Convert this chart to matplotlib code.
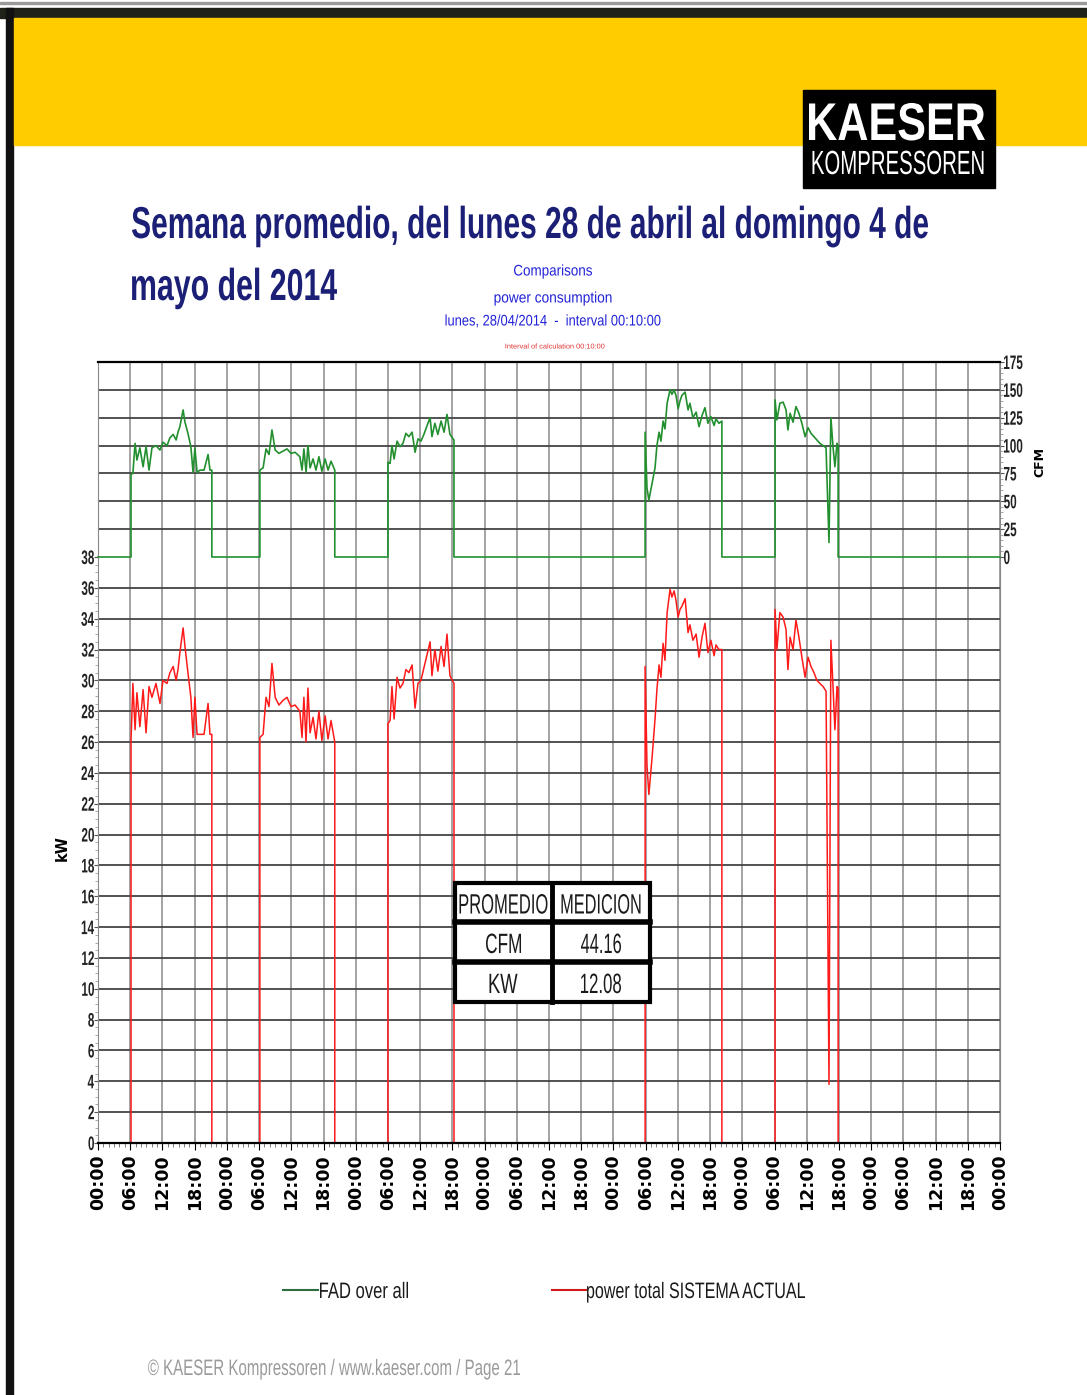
import matplotlib
matplotlib.use('Agg')
import matplotlib.pyplot as plt
from matplotlib.transforms import Affine2D
from matplotlib.patches import Rectangle, PathPatch
from matplotlib.lines import Line2D
from matplotlib.textpath import TextPath
from matplotlib.font_manager import FontProperties

W, H = 1087, 1395

# ---- data: hours since lunes 28/04 00:00, FAD in CFM, power in kW ----
mon_h = [6.15, 6.5, 6.9, 7.25, 7.8, 8.4, 8.95, 9.5, 10.05, 10.8, 11.55, 12.1, 12.85, 13.4, 14.0,
         14.55, 14.9, 15.25, 15.85, 16.2, 16.75, 17.3, 17.7, 18.05, 18.45, 19.0, 19.75, 20.5, 20.85, 21.2]
mon_cfm = [74, 75, 102, 87, 98, 81, 99, 78, 98, 100, 96, 103, 100, 107, 110,
           105, 112, 117, 132, 121, 111, 99, 76, 98, 76, 78, 78, 92, 78, 78]
mon_kw = [26.1, 29.8, 26.8, 29.2, 27.0, 29.4, 26.6, 29.6, 28.9, 29.8, 28.5, 30.0, 29.8, 30.5, 30.9,
          30.0, 30.7, 31.8, 33.4, 32.2, 30.5, 28.9, 26.3, 28.9, 26.5, 26.5, 26.5, 28.5, 26.5, 26.5]

tue_h = [30.15, 30.75, 31.3, 31.85, 32.4, 33.0, 33.7, 34.45, 35.2, 35.95, 36.7, 37.6, 38.0,
         38.35, 38.75, 39.1, 39.5, 40.05, 40.6, 41.15, 41.7, 42.3, 42.85, 43.4, 44.1]
tue_cfm = [78, 80, 97, 92, 114, 96, 93, 95, 97, 93, 94, 90, 78,
           97, 76, 100, 80, 88, 78, 90, 77, 88, 78, 86, 78]
tue_kw = [26.3, 26.5, 28.9, 28.3, 31.1, 28.9, 28.4, 28.7, 28.9, 28.3, 28.4, 28.0, 26.3,
          28.9, 26.0, 29.5, 26.6, 27.6, 26.2, 28.0, 26.1, 27.7, 26.2, 27.4, 26.0]

wed_h = [54.0, 54.4, 54.75, 55.15, 55.7, 56.25, 56.8, 57.35, 57.9, 58.5, 59.05, 59.6,
         60.15, 60.7, 61.3, 61.85, 62.2, 62.75, 63.3, 63.9, 64.45, 65.0, 65.55, 66.3]
wed_cfm = [85, 84, 100, 88, 104, 99, 102, 111, 108, 112, 94, 106,
           104, 110, 118, 125, 108, 120, 110, 122, 112, 128, 110, 105]
wed_kw = [27.2, 27.4, 29.6, 27.5, 30.2, 29.5, 29.8, 30.7, 30.5, 31.0, 28.2, 29.8,
          30.0, 30.8, 31.7, 32.5, 30.3, 32.0, 30.6, 32.2, 30.9, 33.0, 30.3, 29.8]

fri_h = [101.9, 102.25, 102.6, 103.2, 103.75, 104.1, 104.5, 104.85, 105.25, 105.6, 106.0,
         106.55, 106.9, 107.3, 107.65, 108.05, 108.4, 108.75, 109.35, 109.9, 110.25, 110.8,
         111.4, 111.95, 112.5, 113.05, 113.6, 114.15, 114.75, 115.1, 115.65, 116.2]
fri_cfm = [112, 62, 51, 66, 80, 100, 112, 104, 122, 115, 138,
           150, 146, 150, 145, 133, 140, 145, 148, 132, 138, 125,
           130, 117, 127, 134, 120, 126, 118, 124, 120, 122]
fri_kw = [30.9, 24.5, 22.6, 25.0, 27.5, 29.4, 31.0, 30.2, 32.4, 31.3, 34.4,
          35.9, 35.4, 35.8, 35.2, 34.1, 34.6, 34.8, 35.3, 33.1, 33.6, 32.6,
          33.0, 31.5, 32.8, 33.7, 31.8, 32.6, 31.6, 32.3, 32.0, 32.0]

sat_h = [126.1, 126.45, 127.0, 127.6, 128.15, 128.5, 128.9, 129.45, 130.0, 130.55, 131.1,
         131.7, 132.25, 132.8, 133.35, 133.9, 134.45, 135.05, 135.6, 136.15, 136.5, 136.9,
         137.25, 137.65, 137.85]
sat_cfm = [141, 123, 138, 139, 132, 114, 129, 121, 135, 129, 120,
           108, 116, 111, 108, 105, 102, 100, 98, 13, 125, 99,
           81, 102, 100]
sat_kw = [34.6, 32.0, 34.4, 34.1, 33.3, 30.7, 32.8, 32.0, 33.9, 32.8, 31.5,
          30.2, 31.5, 30.9, 30.5, 30.0, 29.8, 29.6, 29.3, 3.8, 32.6, 29.6,
          26.8, 29.6, 29.5]

week_hours = 168
tick_labels = ['00:00', '06:00', '12:00', '18:00']
kw_ticks = list(range(0, 39, 2))
cfm_ticks = list(range(0, 176, 25))

table_rows = [['PROMEDIO', 'MEDICION'], ['CFM', '44.16'], ['KW', '12.08']]

# build full week series (compressor off = 0)
runs = [(mon_h, mon_cfm, mon_kw), (tue_h, tue_cfm, tue_kw), (wed_h, wed_cfm, wed_kw),
        (fri_h, fri_cfm, fri_kw), (sat_h, sat_cfm, sat_kw)]
hours, cfm, kw = [0.0], [0], [0]
for h, c, k in runs:
    hours += [h[0]] + h + [h[-1]]
    cfm += [0] + c + [0]
    kw += [0] + k + [0]
hours.append(week_hours)
cfm.append(0)
kw.append(0)

fig = plt.figure(figsize=(W / 100, H / 100), dpi=100)
# pixel coords, origin top-left
pix = Affine2D().scale(1 / W, -1 / H).translate(0, 1) + fig.transFigure
disp = Affine2D().scale(1, -1).translate(0, H)   # pixel (top-left) -> display


def ntext(x, y, s, cap, sx=0.72, width=None, ha='left', color='black', bold=False, zorder=8):
    # condensed text drawn as a squeezed path (no narrow font installed)
    fp = FontProperties(family='Liberation Sans', weight='bold' if bold else 'normal')
    size = cap / 0.716
    tp = TextPath((0, 0), s, size=size, prop=fp)
    bb = tp.get_extents()
    if width is not None:
        sx = width / bb.width
    w = bb.width * sx
    x0 = x - {'left': 0, 'center': w / 2, 'right': w}[ha]
    tr = Affine2D().translate(-bb.x0, 0).scale(sx, -1).translate(x0, y + cap / 2) + disp
    fig.add_artist(PathPatch(tp, transform=tr, facecolor=color, edgecolor='none', zorder=zorder))


# page frame / header
fig.add_artist(Rectangle((0, 2), W, 2, color='#9a9a9a', transform=pix))
fig.add_artist(Rectangle((0, 8), W, 10, color='#1e2219', transform=pix))
fig.add_artist(Rectangle((6, 8), 7, H, color='#111111', transform=pix))
fig.add_artist(Rectangle((14, 18), W - 14, 127, color='#FFCC00', transform=pix))
fig.add_artist(Rectangle((803, 90), 192, 98, color='black', transform=pix))
ntext(897, 121, 'KAESER', 38, width=176, ha='center', color='white', bold=True)
ntext(898, 162, 'KOMPRESSOREN', 24, width=171, ha='center', color='white')

navy = '#1b1f75'
ntext(132, 222, 'Semana promedio, del lunes 28 de abril al domingo 4 de', 32, width=796,
      color=navy, bold=True)
ntext(132, 284, 'mayo del 2014', 32, width=205, color=navy, bold=True)

blue = '#2222d8'
ntext(553, 270, 'Comparisons', 11, width=78, ha='center', color=blue)
ntext(553, 297, 'power consumption', 11, width=117, ha='center', color=blue)
ntext(553, 320, 'lunes, 28/04/2014  -  interval 00:10:00', 11, width=215, ha='center', color=blue)
ntext(555, 346, 'Interval of calculation 00:10:00', 5, width=99, ha='center', color='#e03030')

# ---- axes ----
ax_k = fig.add_axes([98 / W, 1 - 1143 / H, 902 / W, 586 / H])
ax_c = fig.add_axes([98 / W, 1 - 557 / H, 902 / W, 195 / H])

ax_k.plot(hours, kw, color='#ff1a1a', lw=1.1, zorder=3)
ax_c.plot(hours, cfm, color='#23902f', lw=1.2, zorder=3, clip_on=False)

xt = list(range(0, week_hours + 1, 6))
for ax in (ax_k, ax_c):
    ax.set_xlim(0, week_hours)
    ax.set_xticks(xt)
    ax.set_xticks(range(0, week_hours + 1), minor=True)
    for x in xt:
        ax.axvline(x, color='#939393', lw=1.2, zorder=1)
    ax.spines['left'].set_color('#888888')
    ax.spines['right'].set_color('#888888')

ax_k.set_ylim(0, 38)
ax_k.set_yticks(kw_ticks)
ax_k.set_yticks([v / 2 for v in range(0, 77)], minor=True)
for v in kw_ticks[1:-1]:
    ax_k.axhline(v, color='#444444', lw=1.3, zorder=1)
ax_k.spines['top'].set_visible(False)
ax_k.spines['bottom'].set_linewidth(1.6)
ax_k.spines['bottom'].set_zorder(5)
ax_k.set_xticklabels([tick_labels[i % 4] for i in range(len(xt))], rotation=90,
                     fontsize=12.5, fontweight='bold', family='DejaVu Sans')
ax_k.tick_params(axis='x', which='major', length=5, pad=3)
ax_k.tick_params(axis='x', which='minor', length=3, color='#666666')
ax_k.tick_params(axis='y', which='major', length=3, color='#555555', labelleft=False)
ax_k.tick_params(axis='y', which='minor', length=2, color='#999999')

ax_c.set_ylim(0, 175)
ax_c.set_yticks(cfm_ticks)
ax_c.set_yticks(range(0, 176, 5), minor=True)
for v in cfm_ticks[1:-1]:
    ax_c.axhline(v, color='#444444', lw=1.3, zorder=1)
ax_c.spines['bottom'].set_visible(False)
ax_c.spines['top'].set_linewidth(1.6)
ax_c.yaxis.tick_right()
ax_c.tick_params(axis='x', which='both', bottom=False, labelbottom=False)
ax_c.tick_params(axis='y', which='major', length=3, color='#555555', labelright=False)
ax_c.tick_params(axis='y', which='minor', length=2, color='#999999')

# y tick labels in condensed style, placed at the tick positions
for v in kw_ticks:
    X, Y = ax_k.transData.transform((0, v))
    ntext(X - 4, H - Y, str(v), 14, sx=0.6, ha='right', color='#222222', bold=True)
for v in cfm_ticks:
    X, Y = ax_c.transData.transform((week_hours, v))
    ntext(X + 4, H - Y, str(v), 14, sx=0.6, ha='left', color='#222222', bold=True)

fig.text(62, 848, 'kW', transform=pix, rotation=90, ha='center', va='center',
         fontsize=10.5, fontweight='bold')
fig.text(1040, 462, 'CFM', transform=pix, rotation=90, ha='center', va='center',
         fontsize=9, fontweight='bold')

# ---- summary table ----
col_x = [455, 552, 650]
row_y = [883, 922, 962, 1002]
col_w = [[88, 79], [35, 40], [28, 40]]
fig.add_artist(Rectangle((col_x[0], row_y[0]), col_x[2] - col_x[0], row_y[3] - row_y[0],
                         facecolor='white', edgecolor='black', lw=3, transform=pix, zorder=5))
fig.add_artist(Line2D([col_x[1], col_x[1]], [row_y[0], row_y[3]], color='black', lw=3.5,
                      transform=pix, zorder=6))
for y in row_y[1:3]:
    fig.add_artist(Line2D([col_x[0], col_x[2]], [y, y], color='black', lw=4,
                          transform=pix, zorder=6))
for r, row in enumerate(table_rows):
    for c, txt in enumerate(row):
        ntext((col_x[c] + col_x[c + 1]) / 2, (row_y[r] + row_y[r + 1]) / 2 + 1, txt, 20,
              width=col_w[r][c], ha='center', color='#1a1a1a', zorder=7)

# ---- legend ----
fig.add_artist(Line2D([283, 318], [1290, 1290], color='#2e6e3e', lw=1.5, transform=pix))
ntext(320, 1290, 'FAD over all', 16, width=88, color='#1a1a1a')
fig.add_artist(Line2D([552, 586], [1290, 1290], color='#d01a1a', lw=1.5, transform=pix))
ntext(587, 1290, 'power total SISTEMA ACTUAL', 16, width=218, color='#1a1a1a')

ntext(148, 1367, '\u00a9 KAESER Kompressoren / www.kaeser.com / Page 21', 16, width=372,
      color='#9a9a9a')

fig.savefig('out.png', dpi=100, facecolor='white')
